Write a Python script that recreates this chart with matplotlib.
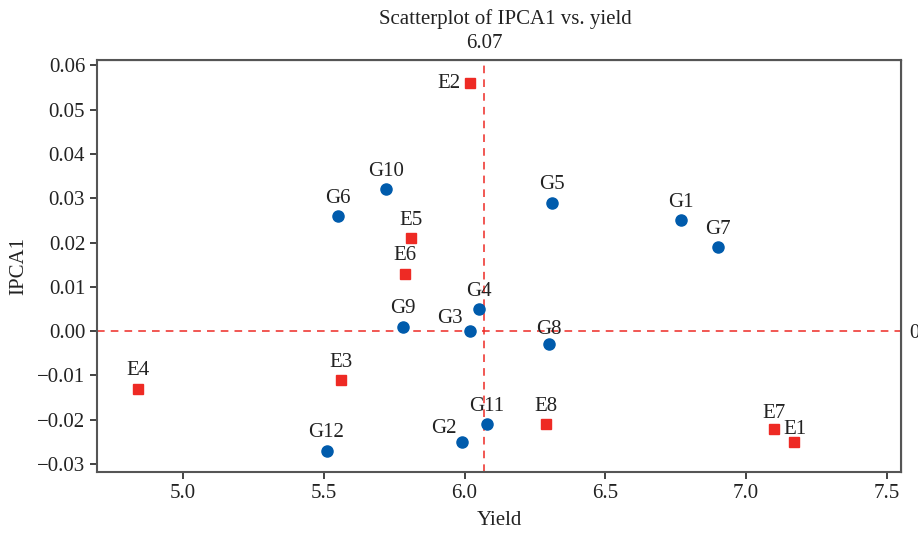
import matplotlib.pyplot as plt
import numpy as np

plt.rcParams["font.family"] = ["Liberation Serif", "DejaVu Serif"]
plt.rcParams["figure.dpi"] = 100
plt.rcParams["figure.facecolor"] = "white"

# genotypes (blue circles)
g_names = ["G1", "G2", "G3", "G4", "G5", "G6", "G7", "G8", "G9", "G10", "G11", "G12"]
g_yield = [6.77, 5.99, 6.02, 6.05, 6.31, 5.55, 6.90, 6.30, 5.78, 5.72, 6.08, 5.51]
g_ipca1 = [0.025, -0.025, 0.000, 0.005, 0.029, 0.026, 0.019, -0.003, 0.001, 0.032, -0.021, -0.027]

# environments (red squares)
e_names = ["E1", "E2", "E3", "E4", "E5", "E6", "E7", "E8"]
e_yield = [7.17, 6.02, 5.56, 4.84, 5.81, 5.79, 7.10, 6.29]
e_ipca1 = [-0.025, 0.056, -0.011, -0.013, 0.021, 0.013, -0.022, -0.021]

mean_yield = 6.07
blue = "#005bac"
red = "#ee2a24"
txt = "#222222"
fs = 15

fig = plt.figure(figsize=(9.18, 5.34))
ax = fig.add_axes([0.1057, 0.1161, 0.8758, 0.7715])

ax.axvline(mean_yield, color=red, linestyle=(0, (5, 4)), linewidth=1.1, zorder=1)
ax.axhline(0, color=red, linestyle=(0, (5, 4)), linewidth=1.1, zorder=1)

ax.plot(g_yield, g_ipca1, "o", color=blue, markersize=8, zorder=3)
ax.plot(e_yield, e_ipca1, "s", color=red, markersize=7.5, zorder=3)

# label placement: (dx, dy, ha, va) in points
special = {
    "E2": (-7, 0, "right", "center"),
    "G3": (-5, 2, "right", "bottom"),
    "G2": (-4, 3, "right", "bottom"),
    "E1": (1, 2, "center", "bottom"),
    "E7": (0, 4, "center", "bottom"),
    "G8": (0, 4, "center", "bottom"),
}
for names, xs, ys in [(g_names, g_yield, g_ipca1), (e_names, e_yield, e_ipca1)]:
    for n, x, y in zip(names, xs, ys):
        dx, dy, ha, va = special.get(n, (0, 6, "center", "bottom"))
        ax.annotate(n, (x, y), xytext=(dx, dy), textcoords="offset points",
                    ha=ha, va=va, fontsize=fs, color=txt)

ax.set_xlim(4.695, 7.55)
ax.set_ylim(-0.0318, 0.0612)
ax.set_xticks([5.0, 5.5, 6.0, 6.5, 7.0, 7.5])
ax.set_yticks([-0.03, -0.02, -0.01, 0.00, 0.01, 0.02, 0.03, 0.04, 0.05, 0.06])
ax.set_yticklabels(["\u22120.03", "\u22120.02", "\u22120.01", "0.00", "0.01", "0.02",
                    "0.03", "0.04", "0.05", "0.06"])
ax.tick_params(labelsize=fs, colors=txt, length=5, width=1.2)
for s in ax.spines.values():
    s.set_color("#555555")
    s.set_linewidth(1.5)

ax.set_xlabel("Yield", fontsize=fs, color=txt, labelpad=6)
ax.set_ylabel("IPCA1", fontsize=fs, color=txt, labelpad=6)

top = ax.secondary_xaxis("top")
top.set_xticks([mean_yield])
top.set_xticklabels(["6.07"])
top.tick_params(length=0, labelsize=fs, colors=txt, pad=5)

right = ax.secondary_yaxis("right")
right.set_yticks([0])
right.set_yticklabels(["0"])
right.tick_params(length=0, labelsize=fs, colors=txt, pad=6)

fig.text(0.55, 0.965, "Scatterplot of IPCA1 vs. yield", ha="center", va="center",
         fontsize=fs, color=txt)

fig.savefig("out.png", dpi=100)
